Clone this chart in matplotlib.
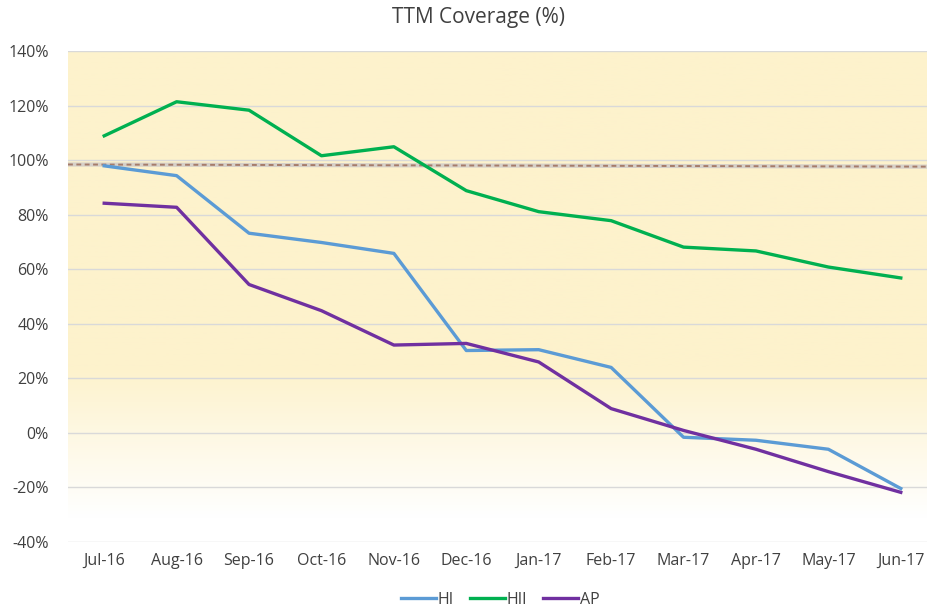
import numpy as np
import matplotlib.pyplot as plt

plt.rcParams['font.family'] = ['Open Sans', 'DejaVu Sans']

months = ['Jul-16', 'Aug-16', 'Sep-16', 'Oct-16', 'Nov-16', 'Dec-16',
          'Jan-17', 'Feb-17', 'Mar-17', 'Apr-17', 'May-17', 'Jun-17']
hi = [97.9, 94.3, 73.2, 69.8, 65.8, 30.2, 30.5, 24.0, -1.6, -2.7, -6.0, -20.4]
hii = [108.9, 121.4, 118.3, 101.6, 104.9, 88.8, 81.1, 77.8, 68.1, 66.7, 60.8, 56.8]
ap = [84.2, 82.7, 54.4, 44.8, 32.2, 32.8, 26.0, 8.9, 0.9, -6.0, -14.2, -21.8]
target = [98.4, 97.6]

x = np.arange(len(months))

fig = plt.figure(figsize=(9.28, 6.09), dpi=100)
ax = fig.add_axes([68 / 928, 67 / 609, 869 / 928, 491 / 609])

# background gradient: pale yellow at top fading to white near the bottom
ys = np.linspace(-40, 140, 400)
alpha = np.clip((ys + 31) / 55, 0, 1)
top = np.array([253, 242, 204]) / 255
grad = 1 - alpha[:, None] * (1 - top[None, :])
ax.imshow(grad[:, None, :], aspect='auto', extent=[-0.5, 11.5, -40, 140],
          origin='lower', zorder=0)

for v in range(-40, 141, 20):
    ax.axhline(v, color='#D9D9D9', lw=1, zorder=1)

ax.plot([-0.5, 11.5], target, color='#D6D0C8', lw=3, zorder=2, solid_capstyle='butt')
ax.plot([-0.5, 11.5], target, color='#A67C6A', lw=1.4, ls=(0, (2.5, 1.8)), zorder=2)

ax.plot(x, hi, color='#5B9BD5', lw=2.4, label='HI', zorder=3)
ax.plot(x, hii, color='#00B050', lw=2.4, label='HII', zorder=3)
ax.plot(x, ap, color='#7030A0', lw=2.4, label='AP', zorder=3)

ax.set_xlim(-0.5, 11.5)
ax.set_ylim(-40, 140)
ax.set_yticks(range(-40, 141, 20))
ax.set_yticklabels([f'{v}%' for v in range(-40, 141, 20)])
ax.set_xticks(x)
ax.set_xticklabels(months)
ax.tick_params(length=0, labelsize=11.5, colors='#404040', pad=8)
ax.tick_params(axis='y', pad=14)
for s in ax.spines.values():
    s.set_visible(False)

fig.text(479 / 928, 1 - 18 / 609, 'TTM Coverage (%)', ha='center', va='center',
         fontsize=15, color='#404040')

fig.legend(loc='center', bbox_to_anchor=(500 / 928, 1 - 600 / 609), ncol=3,
           frameon=False, fontsize=11.5, handlelength=2.2, handletextpad=0.1,
           columnspacing=1.0, labelcolor='#404040')

fig.savefig('out.png', dpi=100)
